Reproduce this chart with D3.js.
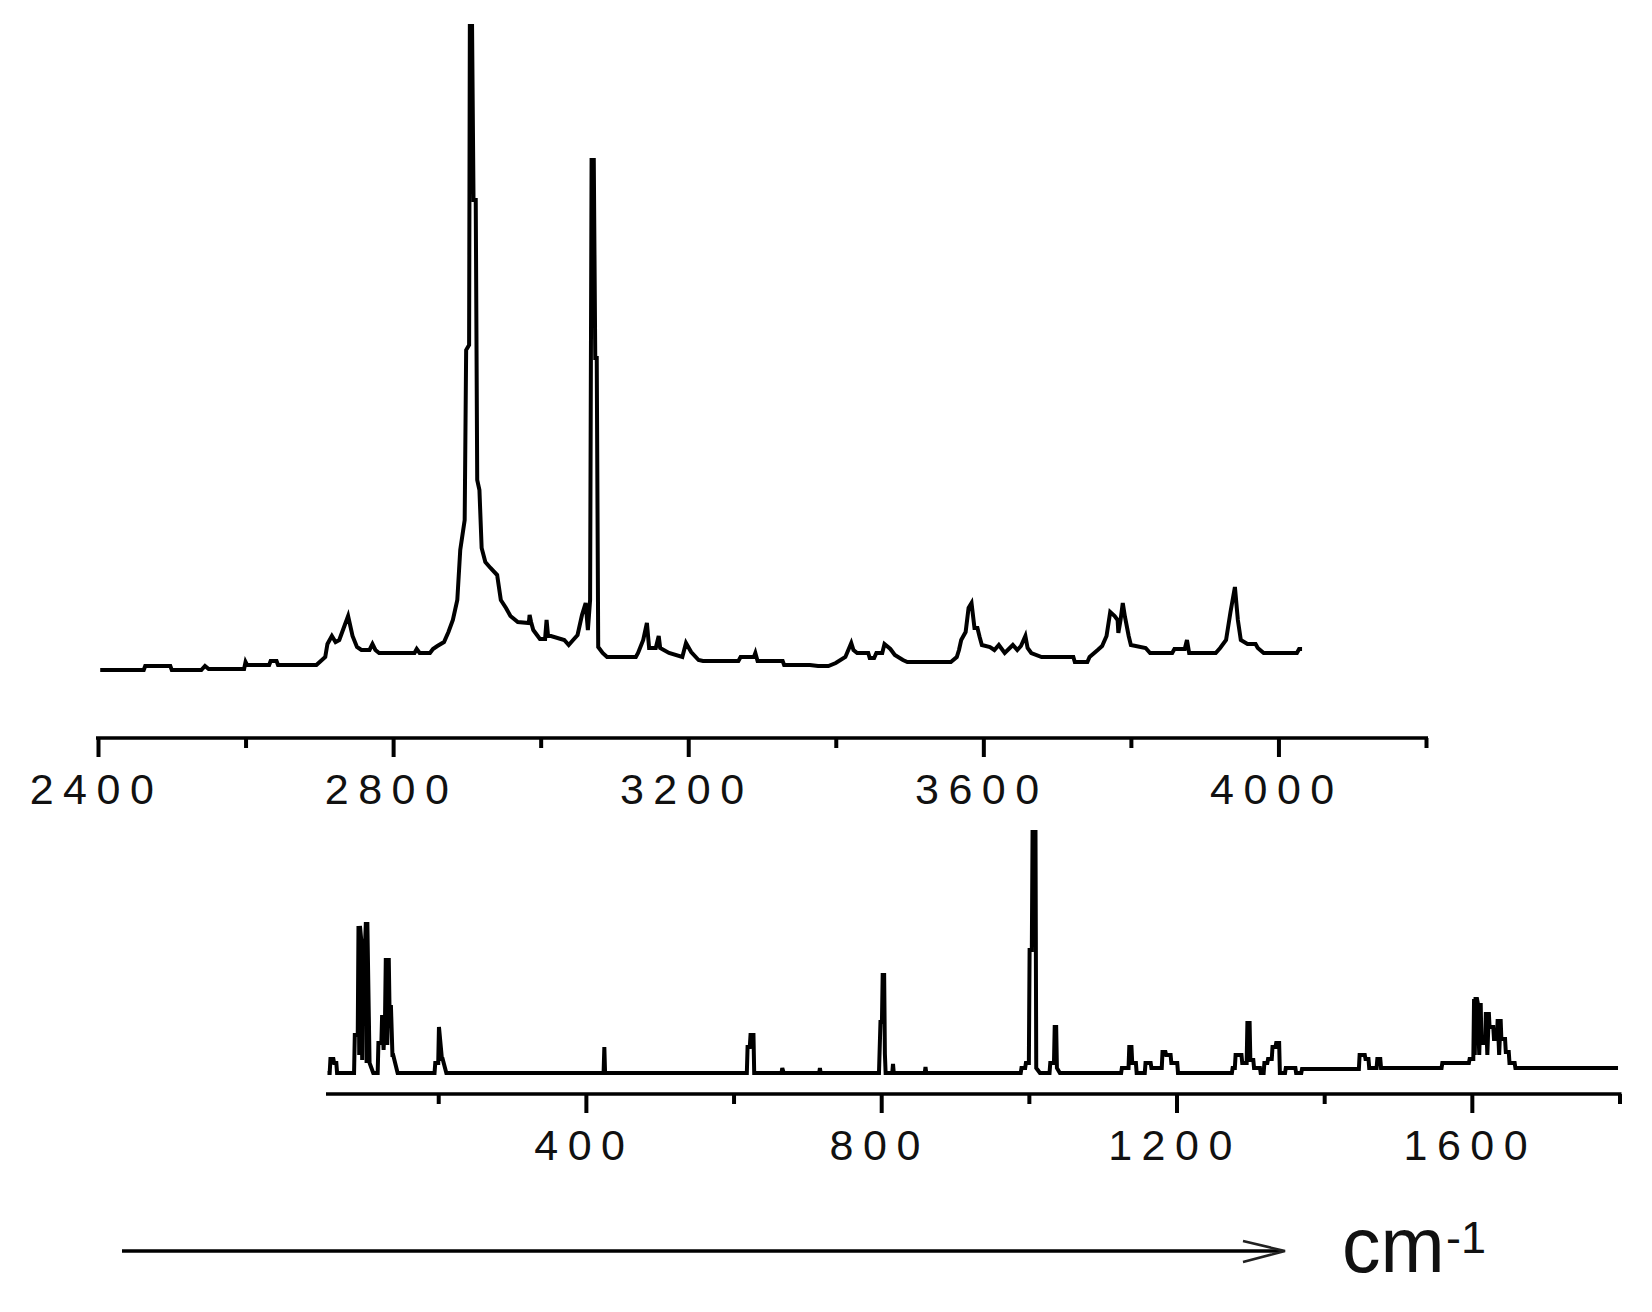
<!DOCTYPE html>
<html>
<head>
<meta charset="utf-8">
<script src="https://cdn.jsdelivr.net/npm/d3@7"></script>
<style>
    body { margin: 0; background: #fff; }
    svg { display: block; }
    .tick-label { font-family: "Liberation Sans", Arial, sans-serif; font-size: 43px; letter-spacing: 9.5px; fill: #111; }
    .unit { font-family: "Liberation Sans", Arial, sans-serif; fill: #111; }
</style>
</head>
<body>
<script>
// // Spectrum data: [wavenumber (cm-1), intensity (a.u.)]
const topSpectrum = [
    [2403, 10], [2462, 10], [2464, 14], [2498, 14], [2500, 10], [2540, 10], [2545, 14], [2550, 11],
    [2598, 11], [2600, 18], [2602, 15], [2632, 15], [2634, 19], [2642, 19], [2644, 15], [2696, 15],
    [2702, 19], [2708, 23], [2711, 36], [2717, 44], [2722, 38], [2727, 40], [2733, 52], [2739, 64],
    [2745, 44], [2751, 33], [2757, 30], [2768, 30], [2772, 36], [2776, 30], [2781, 27], [2829, 27],
    [2832, 31], [2836, 27], [2850, 27], [2854, 31], [2860, 34], [2869, 38], [2875, 48], [2881, 60],
    [2887, 80], [2891, 130], [2897, 160], [2899, 330], [2903, 335], [2904, 654], [2907, 654],
    [2909, 480], [2912, 480], [2914, 200], [2917, 190], [2920, 132], [2925, 118], [2932, 112],
    [2941, 105], [2946, 80], [2953, 72], [2959, 64], [2969, 58], [2984, 57], [2985, 65], [2987, 58],
    [2990, 50], [2999, 41], [3006, 41], [3008, 60], [3010, 44], [3014, 44], [3032, 40], [3038, 35],
    [3044, 40], [3050, 45], [3056, 65], [3061, 77], [3064, 50], [3067, 80], [3069, 520], [3072, 520],
    [3074, 322], [3076, 322], [3078, 33], [3084, 27], [3090, 23], [3129, 23], [3132, 27], [3139, 40],
    [3144, 57], [3147, 32], [3156, 32], [3160, 44], [3162, 32], [3174, 27], [3192, 23], [3197, 37],
    [3204, 28], [3214, 20], [3220, 19], [3268, 19], [3271, 23], [3289, 23], [3291, 27], [3294, 19],
    [3328, 19], [3330, 15], [3365, 15], [3376, 14], [3390, 14], [3400, 17], [3413, 23], [3421, 37],
    [3424, 30], [3429, 27], [3444, 27], [3446, 22], [3452, 22], [3455, 27], [3463, 27], [3466, 36],
    [3474, 31], [3480, 25], [3491, 20], [3497, 18], [3556, 18], [3564, 23], [3567, 30], [3570, 40],
    [3576, 48], [3580, 72], [3584, 77], [3588, 52], [3592, 52], [3595, 43], [3598, 35], [3609, 33],
    [3615, 30], [3621, 35], [3629, 27], [3640, 35], [3646, 30], [3651, 34], [3657, 44], [3660, 32],
    [3665, 27], [3679, 23], [3722, 23], [3724, 18], [3741, 18], [3744, 23], [3755, 30], [3761, 34],
    [3767, 44], [3772, 68], [3778, 64], [3782, 60], [3783, 47], [3786, 60], [3789, 77], [3792, 63],
    [3797, 44], [3800, 35], [3820, 32], [3826, 27], [3856, 27], [3859, 31], [3873, 31], [3876, 40],
    [3879, 27], [3915, 27], [3921, 32], [3929, 40], [3935, 68], [3941, 93], [3945, 60], [3949, 40],
    [3958, 36], [3969, 36], [3972, 32], [3980, 27], [4025, 27], [4028, 31], [4032, 31]
]

const bottomSpectrum = [
    [50, 12], [53, 12], [54, 26], [58, 26], [59, 22], [62, 22], [63, 12], [86, 12], [87, 50], [91, 50],
    [92, 159], [93, 30], [94, 159], [96, 143], [97, 25], [98, 143], [101, 143], [102, 163], [103, 22],
    [104, 163], [107, 22], [112, 12], [118, 12], [119, 42], [123, 42], [124, 70], [126, 35], [128, 70],
    [129, 127], [131, 40], [133, 127], [134, 78], [136, 78], [138, 30], [139, 30], [145, 12],
    [195, 12], [196, 22], [200, 22], [201, 58], [205, 26], [206, 26], [211, 12], [424, 12], [425, 38],
    [426, 12], [618, 12], [619, 38], [622, 38], [623, 50], [627, 50], [628, 12], [665, 12], [666, 17],
    [668, 12], [716, 12], [717, 17], [718, 12], [797, 12], [799, 63], [801, 63], [802, 110], [804, 110],
    [805, 31], [806, 12], [815, 12], [816, 21], [817, 12], [859, 12], [860, 18], [861, 12], [989, 12],
    [990, 17], [995, 17], [996, 22], [1000, 22], [1001, 135], [1004, 135], [1005, 253], [1009, 253],
    [1010, 17], [1015, 12], [1028, 12], [1029, 22], [1034, 22], [1035, 58], [1037, 58], [1038, 17],
    [1042, 12], [1125, 12], [1126, 17], [1135, 17], [1136, 38], [1139, 38], [1140, 22], [1145, 22],
    [1146, 12], [1157, 12], [1158, 22], [1165, 22], [1166, 17], [1180, 17], [1181, 33], [1185, 33],
    [1186, 30], [1192, 30], [1193, 22], [1201, 22], [1202, 12], [1275, 12], [1276, 17], [1279, 17],
    [1280, 30], [1288, 30], [1289, 22], [1295, 22], [1296, 62], [1299, 62], [1300, 25], [1304, 25],
    [1305, 17], [1313, 17], [1314, 12], [1318, 12], [1319, 22], [1323, 22], [1324, 26], [1329, 26],
    [1330, 38], [1334, 38], [1335, 42], [1339, 42], [1340, 12], [1347, 12], [1348, 17], [1361, 17],
    [1362, 12], [1369, 12], [1370, 16], [1447, 16], [1448, 30], [1455, 30], [1456, 26], [1460, 26],
    [1461, 17], [1471, 17], [1472, 26], [1476, 26], [1477, 17], [1559, 17], [1560, 22], [1596, 22],
    [1597, 26], [1602, 26], [1603, 86], [1604, 30], [1605, 86], [1607, 86], [1608, 82], [1610, 30],
    [1612, 82], [1613, 42], [1618, 42], [1619, 73], [1621, 30], [1623, 73], [1624, 58], [1629, 58],
    [1630, 46], [1634, 46], [1635, 66], [1637, 30], [1639, 66], [1640, 46], [1645, 46], [1646, 33],
    [1650, 33], [1651, 22], [1658, 22], [1659, 17], [1798, 17]
]

// Axis ticks (major ones carry a label)
const topTicks = [2400, 2600, 2800, 3000, 3200, 3400, 3600, 3800, 4000, 4200]
const topLabels = [2400, 2800, 3200, 3600, 4000]
const bottomTicks = [200, 400, 600, 800, 1000, 1200, 1400, 1600, 1800]
const bottomLabels = [400, 800, 1200, 1600]

const unitText = "cm"
const unitSup = "-1"

// Layout
const width = 1652
const height = 1312
const lineW = 3.7
const specW = 4
const topAxisY = 738
const bottomAxisY = 1094

const svg = d3.select('body')
    .append('svg')
    .attr('width', width)
    .attr('height', height)

svg.append('rect')
    .attr('width', width)
    .attr('height', height)
    .attr('fill', '#fff')

// Scales - same cm-1 per pixel for both panels
const xTop = d3.scaleLinear().domain([2400, 4200]).range([98, 1426])
const yTop = d3.scaleLinear().domain([0, 660]).range([680, 20])

const xBottom = d3.scaleLinear().domain([48, 1800]).range([326, 1619.5])
const yBottom = d3.scaleLinear().domain([0, 260]).range([1085, 825])

// spectra
var drawSpectrum = function (data, x, y) {
    var line = d3.line()
        .x(d => x(d[0]))
        .y(d => y(d[1]))

    svg.append('path')
        .datum(data)
        .attr('fill', 'none')
        .attr('stroke', '#000')
        .attr('stroke-width', specW)
        .attr('stroke-linejoin', 'miter')
        .attr('d', line)
}

drawSpectrum(topSpectrum, xTop, yTop)
drawSpectrum(bottomSpectrum, xBottom, yBottom)

// axes
var drawAxis = function (x, axisY, ticks, labels, lineStart) {
    var g = svg.append('g')
        .attr('transform', 'translate(0,' + axisY + ')')

    g.call(d3.axisBottom(x)
        .tickValues(ticks)
        .tickSizeOuter(0)
        .tickFormat(d => labels.includes(d) ? d : ""))

    g.select('.domain').remove()

    g.append('line')
        .attr('x1', lineStart)
        .attr('x2', x.range()[1] + 2)
        .attr('stroke', '#000')
        .attr('stroke-width', lineW)

    g.selectAll('.tick line')
        .attr('stroke', '#000')
        .attr('stroke-width', 4)
        .attr('y1', 0)
        .attr('y2', d => labels.includes(d) ? 19 : 10)

    g.selectAll('.tick text')
        .attr('class', 'tick-label')
        .attr('fill', null)
        .attr('y', 66)
        .attr('dy', 0)
        .attr('x', -2)
        .attr('font-size', null)
        .attr('font-family', null)

    g.attr('font-size', null).attr('font-family', null)
}

drawAxis(xTop, topAxisY, topTicks, topLabels, xTop.range()[0] - 2)
drawAxis(xBottom, bottomAxisY, bottomTicks, bottomLabels, xBottom.range()[0])

// direction arrow + unit
const arrowY = 1251
const arrowX0 = 122
const arrowX1 = 1285

svg.append('line')
    .attr('x1', arrowX0)
    .attr('x2', arrowX1 - 4)
    .attr('y1', arrowY)
    .attr('y2', arrowY)
    .attr('stroke', '#000')
    .attr('stroke-width', lineW)

svg.append('path')
    .attr('d', 'M' + (arrowX1 - 42) + ',' + (arrowY - 10) + 'L' + arrowX1 + ',' + arrowY + 'L' + (arrowX1 - 42) + ',' + (arrowY + 11))
    .attr('fill', 'none')
    .attr('stroke', '#222')
    .attr('stroke-width', 2.5)

svg.append('text')
    .attr('class', 'unit')
    .attr('x', 1342)
    .attr('y', 1272)
    .style('font-size', '77px')
    .text(unitText)

svg.append('text')
    .attr('class', 'unit')
    .attr('x', 1446)
    .attr('y', 1253)
    .style('font-size', '45px')
    .text(unitSup)
</script>
</body>
</html>
